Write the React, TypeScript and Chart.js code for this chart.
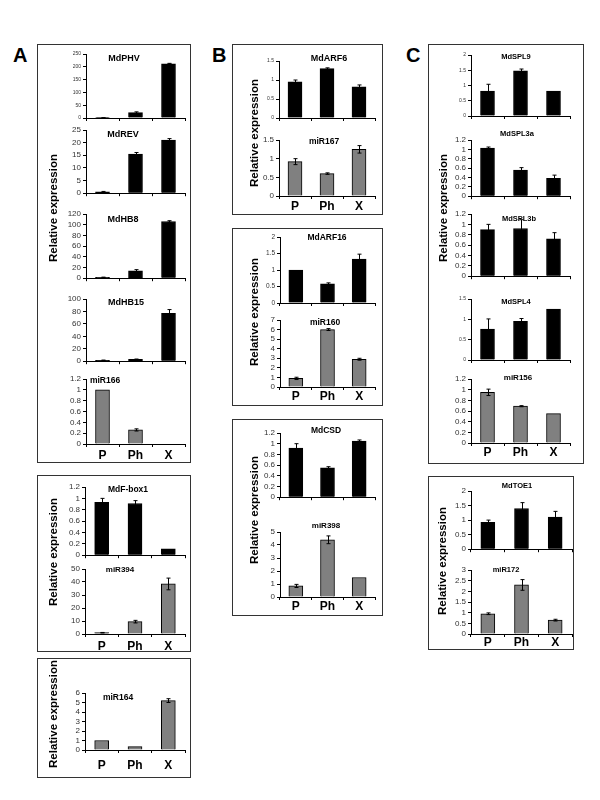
import React, { useEffect, useRef } from 'react';
import { Chart, registerables } from 'chart.js';
Chart.register(...registerables);

const categories = ['P', 'Ph', 'X'];

// Panel A
const mdPHV = [0.5, 21, 212];
const mdPHVErr = [0.3, 3, 1.5];
const mdREV = [0.5, 15.5, 21];
const mdREVErr = [0.2, 0.6, 0.6];
const mdHB8 = [1.5, 14, 106];
const mdHB8Err = [0.5, 2, 1.5];
const mdHB15 = [1.5, 3, 77];
const mdHB15Err = [0.3, 0.5, 6];
const miR166 = [1, 0.26, 0];
const miR166Err = [0, 0.02, 0];
const mdFbox1 = [0.93, 0.91, 0.11];
const mdFbox1Err = [0.07, 0.05, 0];
const miR394 = [1, 9.5, 38.5];
const miR394Err = [0.2, 1, 4.5];
const miR164 = [1, 0.35, 5.2];
const miR164Err = [0, 0, 0.2];

// Panel B
const mdARF6 = [0.95, 1.3, 0.82];
const mdARF6Err = [0.05, 0.02, 0.05];
const miR167 = [0.92, 0.6, 1.25];
const miR167Err = [0.08, 0.02, 0.1];
const mdARF16 = [1.0, 0.58, 1.33];
const mdARF16Err = [0, 0.03, 0.15];
const miR160 = [0.9, 6.0, 2.9];
const miR160Err = [0.12, 0.1, 0.1];
const mdCSD = [0.92, 0.55, 1.05];
const mdCSDErr = [0.08, 0.02, 0.02];
const miR398 = [0.85, 4.4, 1.5];
const miR398Err = [0.12, 0.3, 0];

// Panel C
const mdSPL9 = [0.82, 1.48, 0.82];
const mdSPL9Err = [0.22, 0.06, 0];
const mdSPL3a = [1.03, 0.56, 0.38];
const mdSPL3aErr = [0.02, 0.05, 0.07];
const mdSPL3b = [0.9, 0.92, 0.72];
const mdSPL3bErr = [0.1, 0.17, 0.12];
const mdSPL4 = [0.76, 0.95, 1.25];
const mdSPL4Err = [0.25, 0.07, 0];
const miR156 = [0.95, 0.69, 0.55];
const miR156Err = [0.06, 0.01, 0];
const mdTOE1 = [0.92, 1.4, 1.1];
const mdTOE1Err = [0.08, 0.2, 0.2];
const miR172 = [0.95, 2.3, 0.65];
const miR172Err = [0.04, 0.25, 0.04];

const yAxisTitle = 'Relative expression';

const FONT = '"Liberation Sans", Arial, Helvetica, sans-serif';
const BLACK = '#000000';
const GREY = '#808080';

const errorBarPlugin = {
  id: 'errorBars',
  afterDatasetsDraw(chart: any) {
    const ctx = chart.ctx;
    const yScale = chart.scales.y;
    chart.data.datasets.forEach((ds: any, di: number) => {
      const errs = ds.errors;
      if (!errs) return;
      const meta = chart.getDatasetMeta(di);
      meta.data.forEach((bar: any, i: number) => {
        const e = errs[i];
        if (!e) return;
        const v = ds.data[i];
        const x = Math.round(bar.x) + 0.5;
        const yTop = yScale.getPixelForValue(v + e);
        const yBot = yScale.getPixelForValue(Math.max(0, v - e));
        ctx.save();
        ctx.strokeStyle = '#000';
        ctx.lineWidth = 1;
        ctx.beginPath();
        ctx.moveTo(x, yTop);
        ctx.lineTo(x, yBot);
        ctx.moveTo(x - 2, yTop);
        ctx.lineTo(x + 2, yTop);
        ctx.moveTo(x - 2, yBot);
        ctx.lineTo(x + 2, yBot);
        ctx.stroke();
        ctx.restore();
      });
    });
  },
};

type PanelProps = {
  values: number[];
  errors: number[];
  color: string;
  yMax: number;
  step: number;
  axisX: number;
  right: number;
  top: number;
  bottom: number;
  showX?: boolean;
  labelOffset?: number;
  tickSize?: number;
};

function BarPanel(p: PanelProps) {
  const ref = useRef<HTMLCanvasElement | null>(null);
  const yW = 34;
  const padT = 7;
  const padR = 4;
  const padB = 2;
  const xH = p.showX ? 26 : 4;
  const w = yW + (p.right - p.axisX) + padR;
  const h = padT + (p.bottom - p.top) + xH + padB;
  useEffect(() => {
    const chart = new Chart(ref.current as HTMLCanvasElement, {
      type: 'bar',
      data: {
        labels: categories,
        datasets: [
          {
            data: p.values,
            errors: p.errors,
            backgroundColor: p.color,
            borderColor: '#000',
            borderWidth: 1,
            barThickness: 14,
          } as any,
        ],
      },
      options: {
        responsive: false,
        animation: false,
        events: [],
        layout: { padding: { top: padT, right: padR, bottom: padB, left: 0 } },
        plugins: {
          legend: { display: false },
          tooltip: { enabled: false },
          title: { display: false },
        },
        scales: {
          x: {
            type: 'category',
            offset: true,
            grid: {
              display: true,
              drawOnChartArea: false,
              drawTicks: true,
              tickLength: 3,
              offset: true,
              color: '#000',
            },
            border: { display: true, color: '#000', width: 1 },
            ticks: {
              display: !!p.showX,
              autoSkip: false,
              maxRotation: 0,
              padding: (p.labelOffset ?? 11) - 10.2,
              color: '#000',
              font: { family: FONT, size: 12, weight: 'bold' },
            },
            afterFit: (s: any) => {
              s.height = xH;
            },
          },
          y: {
            min: 0,
            max: p.yMax,
            grid: {
              display: true,
              drawOnChartArea: false,
              drawTicks: true,
              tickLength: 3,
              color: '#000',
            },
            border: { display: true, color: '#000', width: 1 },
            ticks: {
              stepSize: p.step,
              autoSkip: false,
              padding: 2,
              color: '#333',
              font: { family: FONT, size: p.tickSize ?? 8 },
              callback: (v: any) => String(Math.round(Number(v) * 100) / 100),
            },
            afterFit: (s: any) => {
              s.width = yW;
            },
          },
        },
      } as any,
      plugins: [errorBarPlugin as any],
    });
    return () => chart.destroy();
  }, []);
  return (
    <canvas
      ref={ref}
      width={w}
      height={h}
      style={{
        position: 'absolute',
        left: p.axisX - yW,
        top: p.top - padT,
        width: w,
        height: h,
        display: 'block',
      }}
    />
  );
}

function Box(props: { l: number; t: number; r: number; b: number }) {
  return (
    <div
      style={{
        position: 'absolute',
        left: props.l,
        top: props.t,
        width: props.r - props.l,
        height: props.b - props.t,
        border: '1px solid #333',
        boxSizing: 'border-box',
      }}
    />
  );
}

function Title(props: { text: string; cx: number; cy: number; size?: number }) {
  return (
    <div
      style={{
        position: 'absolute',
        left: props.cx,
        top: props.cy,
        transform: 'translate(-50%, -50%)',
        fontFamily: FONT,
        fontWeight: 'bold',
        fontSize: props.size ?? 9,
        lineHeight: 1,
        whiteSpace: 'nowrap',
        color: '#000',
      }}
    >
      {props.text}
    </div>
  );
}

function YLabel(props: { cx: number; cy: number }) {
  return (
    <div
      style={{
        position: 'absolute',
        left: props.cx,
        top: props.cy,
        transform: 'translate(-50%, -50%) rotate(-90deg)',
        fontFamily: FONT,
        fontWeight: 'bold',
        fontSize: 11.5,
        lineHeight: 1,
        whiteSpace: 'nowrap',
        color: '#000',
      }}
    >
      {yAxisTitle}
    </div>
  );
}

function Letter(props: { text: string; l: number; t: number }) {
  return (
    <div
      style={{
        position: 'absolute',
        left: props.l,
        top: props.t,
        fontFamily: FONT,
        fontWeight: 'bold',
        fontSize: 20,
        lineHeight: '20px',
        color: '#000',
      }}
    >
      {props.text}
    </div>
  );
}

export default function App() {
  return (
    <div
      style={{
        position: 'absolute',
        left: 0,
        top: 0,
        width: 600,
        height: 800,
        background: '#fff',
        overflow: 'hidden',
      }}
    >
      <Letter text="A" l={13} t={45} />
      <Letter text="B" l={212} t={45} />
      <Letter text="C" l={406} t={45} />

      <Box l={37} t={44} r={191} b={463} />
      <Box l={37} t={475} r={191} b={652} />
      <Box l={37} t={658} r={191} b={778} />
      <Box l={232} t={44} r={383} b={215} />
      <Box l={232} t={228} r={383} b={406} />
      <Box l={232} t={419} r={383} b={616} />
      <Box l={428} t={44} r={584} b={464} />
      <Box l={428} t={476} r={574} b={650} />

      {/* Column A */}
      <BarPanel values={mdPHV} errors={mdPHVErr} color={BLACK} yMax={250} step={50} axisX={86} right={185} top={54} bottom={118} tickSize={5} />
      <BarPanel values={mdREV} errors={mdREVErr} color={BLACK} yMax={25} step={5} axisX={86} right={185} top={130} bottom={194} />
      <BarPanel values={mdHB8} errors={mdHB8Err} color={BLACK} yMax={120} step={20} axisX={86} right={185} top={214} bottom={279} />
      <BarPanel values={mdHB15} errors={mdHB15Err} color={BLACK} yMax={100} step={20} axisX={86} right={185} top={299} bottom={362} />
      <BarPanel values={miR166} errors={miR166Err} color={GREY} yMax={1.2} step={0.2} axisX={86} right={185} top={379} bottom={444} showX labelOffset={12} />
      <BarPanel values={mdFbox1} errors={mdFbox1Err} color={BLACK} yMax={1.2} step={0.2} axisX={85} right={185} top={487} bottom={556} />
      <BarPanel values={miR394} errors={miR394Err} color={GREY} yMax={50} step={10} axisX={85} right={185} top={569} bottom={634} showX labelOffset={13} />
      <BarPanel values={miR164} errors={miR164Err} color={GREY} yMax={6} step={1} axisX={85} right={185} top={693} bottom={750} showX labelOffset={16} />

      {/* Column B */}
      <BarPanel values={mdARF6} errors={mdARF6Err} color={BLACK} yMax={1.5} step={0.5} axisX={279} right={375} top={61} bottom={118} tickSize={5} />
      <BarPanel values={miR167} errors={miR167Err} color={GREY} yMax={1.5} step={0.5} axisX={279} right={375} top={140} bottom={196} showX labelOffset={11} />
      <BarPanel values={mdARF16} errors={mdARF16Err} color={BLACK} yMax={2} step={0.5} axisX={280} right={375} top={237} bottom={303} tickSize={6.5} />
      <BarPanel values={miR160} errors={miR160Err} color={GREY} yMax={7} step={1} axisX={280} right={375} top={320} bottom={387} showX labelOffset={10} />
      <BarPanel values={mdCSD} errors={mdCSDErr} color={BLACK} yMax={1.2} step={0.2} axisX={280} right={375} top={433} bottom={498} />
      <BarPanel values={miR398} errors={miR398Err} color={GREY} yMax={5} step={1} axisX={280} right={375} top={532} bottom={597} showX labelOffset={10} />

      {/* Column C */}
      <BarPanel values={mdSPL9} errors={mdSPL9Err} color={BLACK} yMax={2} step={0.5} axisX={471} right={570} top={55} bottom={116} tickSize={5} />
      <BarPanel values={mdSPL3a} errors={mdSPL3aErr} color={BLACK} yMax={1.2} step={0.2} axisX={471} right={570} top={140} bottom={197} />
      <BarPanel values={mdSPL3b} errors={mdSPL3bErr} color={BLACK} yMax={1.2} step={0.2} axisX={471} right={570} top={214} bottom={277} />
      <BarPanel values={mdSPL4} errors={mdSPL4Err} color={BLACK} yMax={1.5} step={0.5} axisX={471} right={570} top={299} bottom={360} tickSize={5} />
      <BarPanel values={miR156} errors={miR156Err} color={GREY} yMax={1.2} step={0.2} axisX={471} right={570} top={379} bottom={443} showX labelOffset={10} />
      <BarPanel values={mdTOE1} errors={mdTOE1Err} color={BLACK} yMax={2} step={0.5} axisX={471} right={572} top={491} bottom={550} />
      <BarPanel values={miR172} errors={miR172Err} color={GREY} yMax={3} step={0.5} axisX={471} right={572} top={570} bottom={634} showX labelOffset={9} />

      {/* Titles */}
      <Title text="MdPHV" cx={124} cy={57.5} />
      <Title text="MdREV" cx={123} cy={134} />
      <Title text="MdHB8" cx={123} cy={219} />
      <Title text="MdHB15" cx={126} cy={302} />
      <Title text="miR166" cx={105} cy={380} size={8.5} />
      <Title text="MdF-box1" cx={128} cy={489} size={8.5} />
      <Title text="miR394" cx={120} cy={570} size={8} />
      <Title text="miR164" cx={118} cy={697} size={8.5} />

      <Title text="MdARF6" cx={329} cy={58} />
      <Title text="miR167" cx={324} cy={141} size={8.5} />
      <Title text="MdARF16" cx={327} cy={237} size={8.5} />
      <Title text="miR160" cx={325} cy={322} size={8.5} />
      <Title text="MdCSD" cx={326} cy={430} size={8.5} />
      <Title text="miR398" cx={326} cy={526} size={8} />

      <Title text="MdSPL9" cx={516} cy={57} size={7.5} />
      <Title text="MdSPL3a" cx={517} cy={134} size={7.5} />
      <Title text="MdSPL3b" cx={519} cy={219} size={7.5} />
      <Title text="MdSPL4" cx={516} cy={302} size={7.5} />
      <Title text="miR156" cx={518} cy={378} size={8} />
      <Title text="MdTOE1" cx={517} cy={486} size={7.5} />
      <Title text="miR172" cx={506} cy={570} size={7.5} />

      {/* Y axis titles */}
      <YLabel cx={54} cy={208} />
      <YLabel cx={54} cy={552} />
      <YLabel cx={54} cy={714} />
      <YLabel cx={255} cy={133} />
      <YLabel cx={255} cy={312} />
      <YLabel cx={255} cy={510} />
      <YLabel cx={444} cy={208} />
      <YLabel cx={443} cy={561} />
    </div>
  );
}
